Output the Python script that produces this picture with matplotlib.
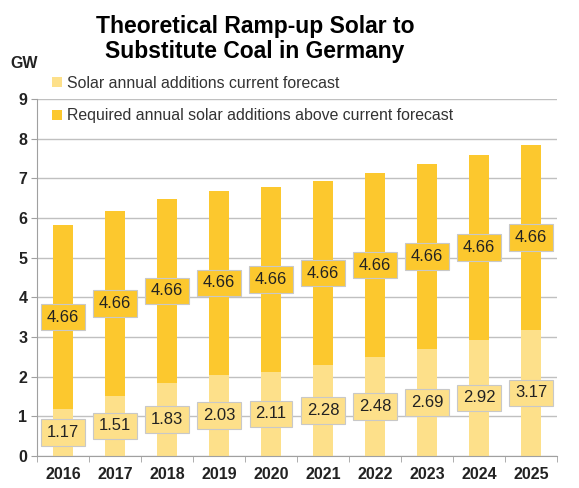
import numpy as np
import matplotlib.pyplot as plt
from matplotlib.ticker import FixedLocator

years = ['2016', '2017', '2018', '2019', '2020', '2021', '2022', '2023', '2024', '2025']
current_forecast = [1.17, 1.51, 1.83, 2.03, 2.11, 2.28, 2.48, 2.69, 2.92, 3.17]
required_extra = [4.66, 4.66, 4.66, 4.66, 4.66, 4.66, 4.66, 4.66, 4.66, 4.66]

light = '#FDE08A'
dark = '#FCC82E'

plt.rcParams['font.family'] = ['Liberation Sans', 'DejaVu Sans']

fig = plt.figure(figsize=(5.79, 4.88), dpi=100)
ax = fig.add_axes([0.064, 0.066, 0.898, 0.731])

x = np.arange(len(years))
b1 = ax.bar(x, current_forecast, width=0.39, color=light, zorder=2,
            label='Solar annual additions current forecast')
b2 = ax.bar(x, required_extra, width=0.39, bottom=current_forecast, color=dark, zorder=2,
            label='Required annual solar additions above current forecast')

# value boxes sit in the middle of each segment
box = dict(boxstyle='square,pad=0.35', ec='#c8c8c8', lw=0.8)
for i in range(len(years)):
    ax.text(x[i], current_forecast[i] / 2, f'{current_forecast[i]:.2f}', ha='center', va='center',
            fontsize=12, color='#222222', zorder=3, bbox=dict(box, fc=light))
    ax.text(x[i], current_forecast[i] + required_extra[i] / 2, f'{required_extra[i]:.2f}',
            ha='center', va='center', fontsize=12, color='#222222', zorder=3,
            bbox=dict(box, fc=dark))

ax.set_xlim(-0.5, len(years) - 0.5)
ax.set_ylim(0, 9)
ax.set_yticks(range(10))
ax.set_xticks(x)
ax.set_xticklabels(years)
ax.xaxis.set_minor_locator(FixedLocator(np.arange(-0.5, len(years), 1)))
ax.tick_params(axis='x', which='major', length=0, pad=8, labelsize=11.5, colors='#222222')
ax.tick_params(axis='x', which='minor', length=4, color='#a0a0a0', direction='out')
ax.tick_params(axis='y', length=4, labelsize=11.5, pad=3, colors='#a0a0a0', labelcolor='#222222')
for lbl in ax.get_xticklabels() + ax.get_yticklabels():
    lbl.set_fontweight('bold')

ax.grid(axis='y', color='#c0c0c0', lw=1, zorder=0)
for s in ['top', 'right']:
    ax.spines[s].set_visible(False)
for s in ['left', 'bottom']:
    ax.spines[s].set_color('#a0a0a0')

fig.legend(handles=[b1, b2], loc='upper left', bbox_to_anchor=(0.066, 0.874), frameon=False,
           fontsize=11.4, handlelength=0.6, handleheight=0.6, handletextpad=0.3,
           labelspacing=1.1, labelcolor='#333333')

fig.text(0.44, 0.92, 'Theoretical Ramp-up Solar to\nSubstitute Coal in Germany',
         ha='center', va='center', fontsize=16.5, fontweight='bold', linespacing=1.1)
fig.text(0.018, 0.87, 'GW', ha='left', va='center', fontsize=11.5, fontweight='bold', color='#222222')

fig.savefig('out.png', dpi=100)
